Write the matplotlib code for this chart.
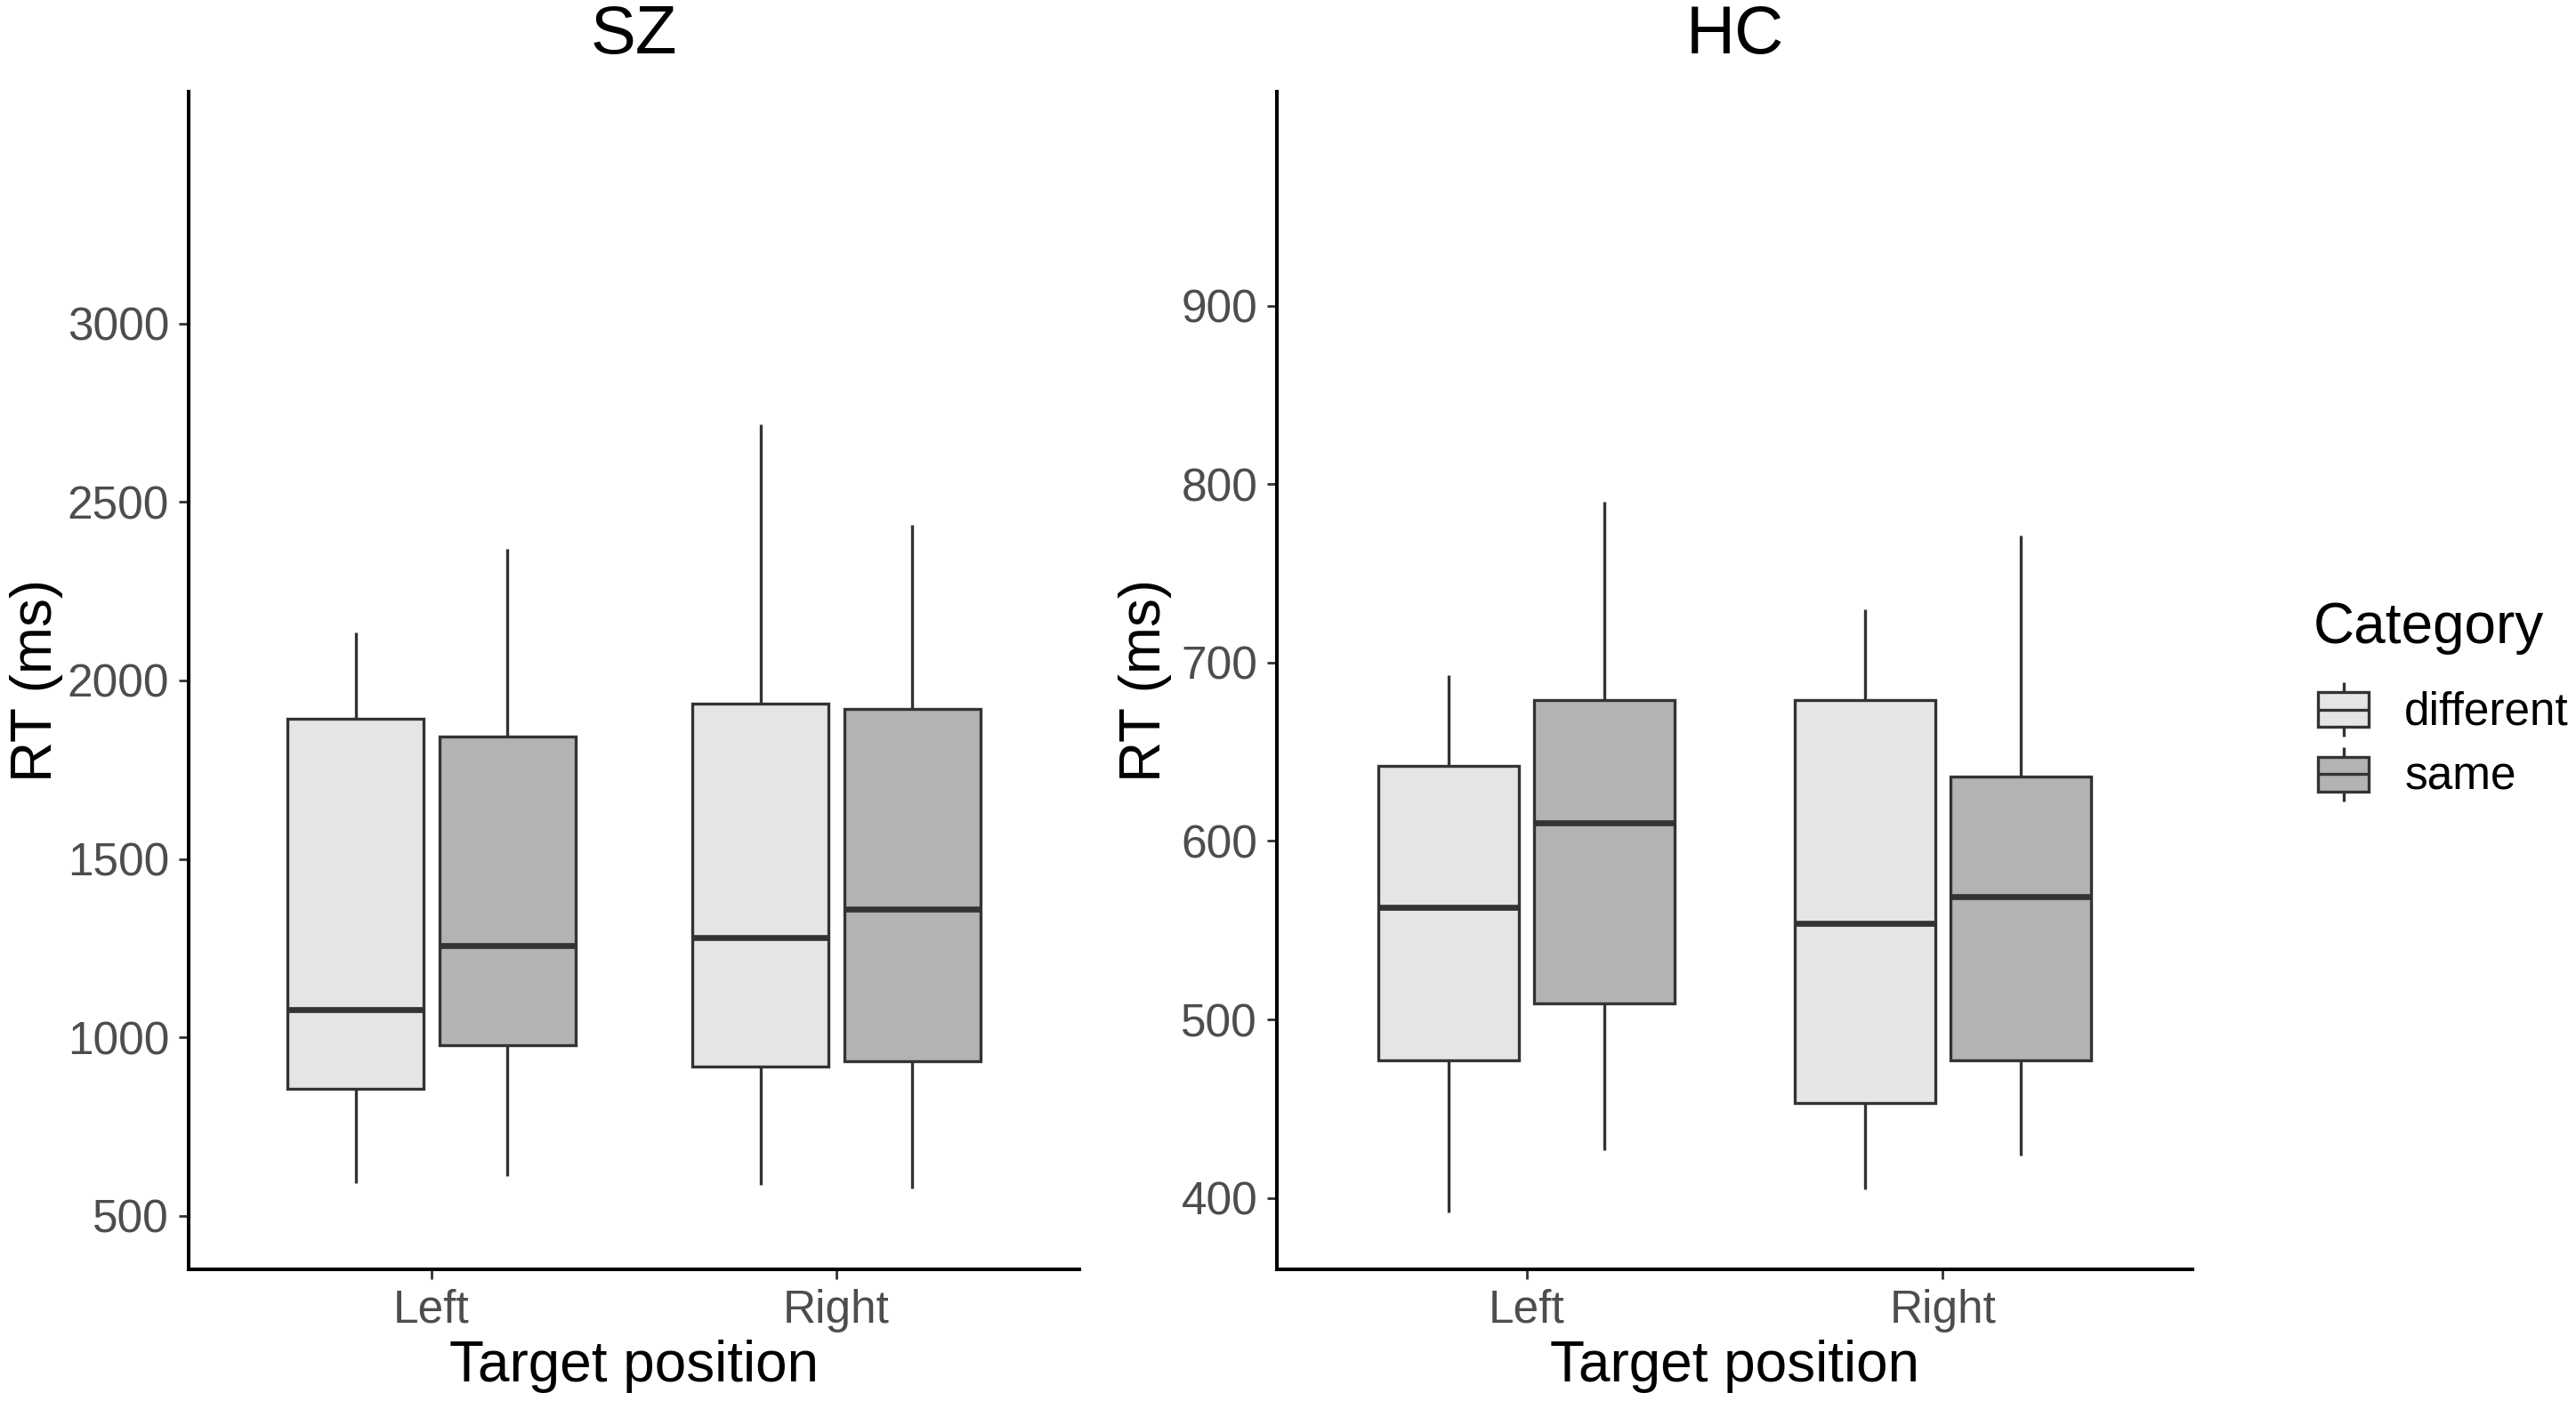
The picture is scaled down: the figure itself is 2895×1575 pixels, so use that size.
import numpy as np
import matplotlib
matplotlib.use("Agg")
import matplotlib.pyplot as plt
from matplotlib.patches import Rectangle
from matplotlib.lines import Line2D
from matplotlib.legend_handler import HandlerBase

plt.rcParams['font.family'] = ['Liberation Sans', 'DejaVu Sans']

# ---------------- data ----------------
positions = ["Left", "Right"]
categories = ["different", "same"]
groups = ["SZ", "HC"]

# SZ: per category, per position (Left, Right)
sz_whislo = {"different": [591, 586], "same": [612, 577]}
sz_q1 = {"different": [857, 919], "same": [978, 932]}
sz_med = {"different": [1078, 1280], "same": [1256, 1358]}
sz_q3 = {"different": [1893, 1935], "same": [1843, 1920]}
sz_whishi = {"different": [2134, 2718], "same": [2369, 2436]}

# HC
hc_whislo = {"different": [392, 405], "same": [427, 424]}
hc_q1 = {"different": [477, 453], "same": [509, 477]}
hc_med = {"different": [563, 554], "same": [610, 569]}
hc_q3 = {"different": [642, 679], "same": [679, 636]}
hc_whishi = {"different": [693, 730], "same": [790, 771]}

sz_ticks = [500, 1000, 1500, 2000, 2500, 3000]
hc_ticks = [400, 500, 600, 700, 800, 900]

# ---------------- style ----------------
fills = {"different": "#E5E5E5", "same": "#B3B3B3"}
edge = "#333333"
lw_box = 2.4
lw_med = 4.8
base = 46
txt = 37

fig = plt.figure(figsize=(28.95, 15.75), dpi=100)
ax1 = fig.add_axes([0.07323, 0.09397, 0.34577, 0.8408])
ax2 = fig.add_axes([0.49568, 0.09397, 0.35544, 0.8408])

panels = [
    (ax1, "SZ", (sz_whislo, sz_q1, sz_med, sz_q3, sz_whishi), (350, 3650), sz_ticks, -0.171),
    (ax2, "HC", (hc_whislo, hc_q1, hc_med, hc_q3, hc_whishi), (360, 1020), hc_ticks, -0.144),
]

dodge = 0.375
bw = 0.3375
for ax, title, (wlo, q1, med, q3, whi), ylim, ticks, ylab_x in panels:
    for j, cat in enumerate(categories):
        stats = []
        for i, pos in enumerate(positions):
            stats.append(dict(med=med[cat][i], q1=q1[cat][i], q3=q3[cat][i],
                              whislo=wlo[cat][i], whishi=whi[cat][i], label=pos))
        pos_x = np.arange(1, len(positions) + 1) + (j - 0.5) * dodge
        ax.bxp(stats, positions=pos_x, widths=bw, patch_artist=True,
               showfliers=False, showcaps=False, manage_ticks=False,
               boxprops=dict(facecolor=fills[cat], edgecolor=edge, linewidth=lw_box),
               whiskerprops=dict(color=edge, linewidth=lw_box, solid_capstyle='butt'),
               medianprops=dict(color=edge, linewidth=lw_med, solid_capstyle='butt'))
    ax.set_xlim(0.4, 2.6)
    ax.set_ylim(*ylim)
    ax.set_xticks([1, 2])
    ax.set_xticklabels(positions)
    ax.set_yticks(ticks)
    ax.set_yticklabels([str(t) for t in ticks])
    for s in ["top", "right"]:
        ax.spines[s].set_visible(False)
    for s in ["left", "bottom"]:
        ax.spines[s].set_linewidth(2.9)
        ax.spines[s].set_color("black")
        ax.spines[s].set_capstyle('projecting')
    ax.tick_params(axis='both', length=7.7, width=2.0, color=edge,
                   labelsize=txt, labelcolor="#4D4D4D", pad=8)
    ax.set_ylabel("RT (ms)", fontsize=base, color="black")
    ax.yaxis.set_label_coords(ylab_x, 0.5)
    ax.yaxis.label.set_va('center')
    ax.set_xlabel("Target position", fontsize=base, color="black")
    ax.xaxis.set_label_coords(0.5, -0.082)
    ax.xaxis.label.set_va('center')
    ax.text(0.5, 1.047, title, transform=ax.transAxes, ha='center', va='center',
            fontsize=55, color="black")
    ax.set_facecolor("white")


class BoxHandler(HandlerBase):
    def create_artists(self, legend, orig_handle, xdescent, ydescent,
                       width, height, fontsize, trans):
        fc = orig_handle.get_facecolor()
        bh = height * 0.64
        x0 = -xdescent
        y0 = -ydescent + (height - bh) / 2
        xc = x0 + width / 2
        wt = Line2D([xc, xc], [y0 + bh, -ydescent + height], color=edge,
                    lw=lw_box, transform=trans, solid_capstyle='butt')
        wb = Line2D([xc, xc], [-ydescent, y0], color=edge, lw=lw_box,
                    transform=trans, solid_capstyle='butt')
        rect = Rectangle((x0, y0), width, bh, facecolor=fc, edgecolor=edge,
                         lw=lw_box, transform=trans)
        med = Line2D([x0, x0 + width], [y0 + bh / 2] * 2, color=edge,
                     lw=lw_box, transform=trans, solid_capstyle='butt')
        return [wt, wb, rect, med]


fig.text(2600 / 2895, (1575 - 723) / 1575, "Category", ha='left', va='baseline',
         fontsize=base, color="black")

handles = [Rectangle((0, 0), 1, 1, facecolor=fills[c], edgecolor=edge) for c in categories]
leg = fig.legend(handles, categories,
                 handler_map={Rectangle: BoxHandler()},
                 loc='upper left', bbox_to_anchor=(2605 / 2895, (1575 - 767) / 1575),
                 frameon=False, fontsize=txt,
                 handlelength=1.11, handleheight=1.45, labelspacing=0.23,
                 handletextpad=0.78, borderpad=0, borderaxespad=0)

fig.savefig("out.png", dpi=100, facecolor="white")
